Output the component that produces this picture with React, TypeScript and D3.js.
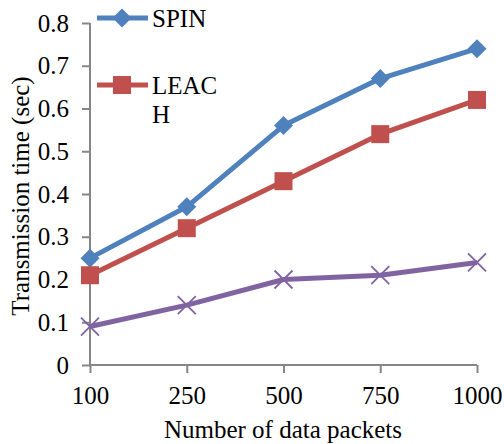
import { useEffect, useRef } from "react";
import * as d3 from "d3";

const categories = ["100", "250", "500", "750", "1000"];
const spinValues = [0.25, 0.37, 0.56, 0.67, 0.74];
const leachValues = [0.21, 0.32, 0.43, 0.54, 0.62];
const thirdValues = [0.09, 0.14, 0.2, 0.21, 0.24];
const yTicks = [0, 0.1, 0.2, 0.3, 0.4, 0.5, 0.6, 0.7, 0.8];

const AXIS_GRAY = "#868686";
const FONT = "'Liberation Serif', 'Times New Roman', serif";
const FS = 25;

export default function App() {
  const ref = useRef<SVGSVGElement>(null);

  useEffect(() => {
    const svg = d3.select(ref.current);
    svg.selectAll("*").remove();

    const x = d3.scalePoint<string>().domain(categories).range([90, 477]);
    const y = d3.scaleLinear().domain([0, 0.8]).range([365, 23]);

    // y axis
    const yAxis = d3
      .axisLeft(y)
      .tickValues(yTicks)
      .tickSize(8)
      .tickFormat((d) => String(d));
    svg
      .append("g")
      .attr("transform", "translate(90,0)")
      .call(yAxis)
      .call((g) => g.select(".domain").attr("stroke", AXIS_GRAY).attr("stroke-width", 2).attr("d", "M0,23V365"))
      .call((g) => g.selectAll(".tick line").attr("stroke", AXIS_GRAY).attr("stroke-width", 2))
      .call((g) =>
        g.selectAll("text").attr("fill", "#000").attr("font-size", FS).attr("font-family", FONT).attr("x", -21)
      );

    // x axis
    const xAxis = d3.axisBottom(x).tickSize(8).tickPadding(13);
    svg
      .append("g")
      .attr("transform", "translate(0,365)")
      .call(xAxis)
      .call((g) => g.select(".domain").attr("stroke", AXIS_GRAY).attr("stroke-width", 2).attr("d", "M90,0H477"))
      .call((g) => g.selectAll(".tick line").attr("stroke", AXIS_GRAY).attr("stroke-width", 2))
      .call((g) =>
        g.selectAll("text").attr("fill", "#000").attr("font-size", FS).attr("font-family", FONT)
      );

    const line = d3
      .line<number>()
      .x((_, i) => x(categories[i]) as number)
      .y((d) => y(d));

    const series = [
      { name: "SPIN", values: spinValues, color: "#4F81BD", marker: "diamond" },
      { name: "LEACH", values: leachValues, color: "#C0504D", marker: "square" },
      { name: "", values: thirdValues, color: "#8064A2", marker: "x" },
    ];

    const drawMarker = (g: any, cx: number, cy: number, kind: string, color: string) => {
      if (kind === "diamond") {
        g.append("path")
          .attr("d", `M${cx},${cy - 9.5}L${cx + 9.5},${cy}L${cx},${cy + 9.5}L${cx - 9.5},${cy}Z`)
          .attr("fill", color);
      } else if (kind === "square") {
        g.append("rect")
          .attr("x", cx - 9)
          .attr("y", cy - 9)
          .attr("width", 18)
          .attr("height", 18)
          .attr("fill", color);
      } else {
        g.append("path")
          .attr("d", `M${cx - 9},${cy - 9}L${cx + 9},${cy + 9}M${cx - 9},${cy + 9}L${cx + 9},${cy - 9}`)
          .attr("stroke", color)
          .attr("stroke-width", 1.8);
      }
    };

    series.forEach((s) => {
      const g = svg.append("g");
      g.append("path")
        .attr("d", line(s.values))
        .attr("fill", "none")
        .attr("stroke", s.color)
        .attr("stroke-width", 5)
        .attr("stroke-linejoin", "round");
      s.values.forEach((v, i) => drawMarker(g, x(categories[i]) as number, y(v), s.marker, s.color));
    });

    // legend
    const legend = svg.append("g");
    const legendRows = [
      { y: 18, s: series[0], lines: ["SPIN"] },
      { y: 85, s: series[1], lines: ["LEAC", "H"] },
    ];
    legendRows.forEach((r) => {
      legend
        .append("line")
        .attr("x1", 97)
        .attr("x2", 148)
        .attr("y1", r.y)
        .attr("y2", r.y)
        .attr("stroke", r.s.color)
        .attr("stroke-width", 5);
      drawMarker(legend, 122, r.y, r.s.marker, r.s.color);
      r.lines.forEach((t, k) => {
        legend
          .append("text")
          .attr("x", 152)
          .attr("y", r.y + 9 + k * 29)
          .attr("font-size", FS)
          .attr("font-family", FONT)
          .text(t);
      });
    });

    // axis titles
    svg
      .append("text")
      .attr("x", 283)
      .attr("y", 438)
      .attr("text-anchor", "middle")
      .attr("font-size", FS)
      .attr("font-family", FONT)
      .text("Number of data packets");
    svg
      .append("text")
      .attr("transform", "translate(29,196) rotate(-90)")
      .attr("text-anchor", "middle")
      .attr("font-size", FS)
      .attr("font-family", FONT)
      .text("Transmission time (sec)");
  }, []);

  return (
    <svg
      ref={ref}
      width={504}
      height={444}
      style={{ position: "absolute", left: 0, top: 0, background: "#fff" }}
    />
  );
}
